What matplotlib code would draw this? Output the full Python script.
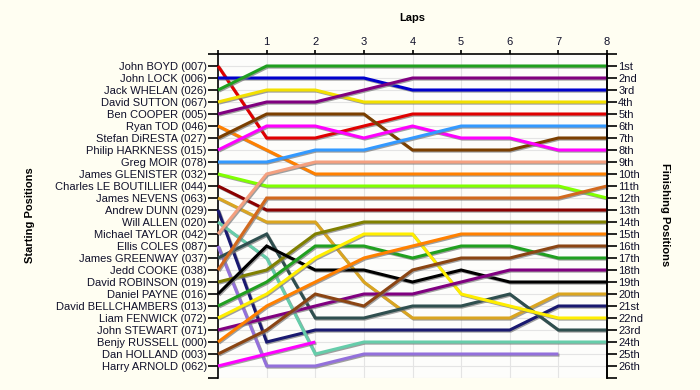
import matplotlib
matplotlib.use('Agg')
import matplotlib.pyplot as plt
import matplotlib.patheffects as pe

plt.rcParams['font.family'] = ['Liberation Sans', 'DejaVu Sans']

laps = [0, 1, 2, 3, 4, 5, 6, 7, 8]

drivers = [
    "John BOYD (007)", "John LOCK (006)", "Jack WHELAN (026)", "David SUTTON (067)",
    "Ben COOPER (005)", "Ryan TOD (046)", "Stefan DiRESTA (027)", "Philip HARKNESS (015)",
    "Greg MOIR (078)", "James GLENISTER (032)", "Charles LE BOUTILLIER (044)",
    "James NEVENS (063)", "Andrew DUNN (029)", "Will ALLEN (020)", "Michael TAYLOR (042)",
    "Ellis COLES (087)", "James GREENWAY (037)", "Jedd COOKE (038)", "David ROBINSON (019)",
    "Daniel PAYNE (016)", "David BELLCHAMBERS (013)", "Liam FENWICK (072)",
    "John STEWART (071)", "Benjy RUSSELL (000)", "Dan HOLLAND (003)", "Harry ARNOLD (062)",
]

driver_colors = [
    "#e00000", "#0000cc", "#20a020", "#f2e000",
    "#800080", "#ff8000", "#7b3f00", "#ff00ff",
    "#3399ff", "#80ff00", "#8b0000",
    "#daa520", "#191970", "#66cdaa", "#f4a080",
    "#9370db", "#2f4f4f", "#d2691e", "#808000",
    "#000000", "#20a020", "#ffee00",
    "#800080", "#ff8000", "#8b4513", "#ff00ff",
]

# position of each driver after each lap (lap 0 = starting grid)
lap_positions = [
    [1, 7, 7, 6, 5, 5, 5, 5, 5],
    [2, 2, 2, 2, 3, 3, 3, 3, 3],
    [3, 1, 1, 1, 1, 1, 1, 1, 1],
    [4, 3, 3, 4, 4, 4, 4, 4, 4],
    [5, 4, 4, 3, 2, 2, 2, 2, 2],
    [6, 8, 10, 10, 10, 10, 10, 10, 10],
    [7, 5, 5, 5, 8, 8, 8, 7, 7],
    [8, 6, 6, 7, 6, 7, 7, 8, 8],
    [9, 9, 8, 8, 7, 6, 6, 6, 6],
    [10, 11, 11, 11, 11, 11, 11, 11, 12],
    [11, 13, 13, 13, 13, 13, 13, 13, 13],
    [12, 14, 14, 19, 22, 22, 22, 20, 20],
    [13, 24, 23, 23, 23, 23, 23, 21, 21],
    [14, 17, 25, 24, 24, 24, 24, 24, 24],
    [15, 10, 9, 9, 9, 9, 9, 9, 9],
    [16, 26, 26, 25, 25, 25, 25, 25],
    [17, 15, 22, 22, 21, 21, 20, 23, 23],
    [18, 12, 12, 12, 12, 12, 12, 12, 11],
    [19, 18, 15, 14, 14, 14, 14, 14, 14],
    [20, 16, 18, 18, 19, 18, 19, 19, 19],
    [21, 19, 16, 16, 17, 16, 16, 17, 17],
    [22, 20, 17, 15, 15, 20, 21, 22, 22],
    [23, 22, 21, 20, 20, 19, 18, 18, 18],
    [24, 21, 19, 17, 16, 15, 15, 15, 15],
    [25, 23, 20, 21, 18, 17, 17, 16, 16],
    [26, 25, 24],
]

finishing_labels = [
    "1st", "2nd", "3rd", "4th", "5th", "6th", "7th", "8th", "9th", "10th",
    "11th", "12th", "13th", "14th", "15th", "16th", "17th", "18th", "19th", "20th",
    "21st", "22nd", "23rd", "24th", "25th", "26th",
]

W, H = 700, 390
fig = plt.figure(figsize=(W / 100, H / 100), dpi=100, facecolor="#fffef2")
ax = fig.add_axes([218 / W, 1 - 378 / H, (607 - 218) / W, (378 - 54) / H])
ax.set_facecolor("#fdfdfb")

n = len(drivers)
ax.set_xlim(0, 8)
ax.set_ylim(n + 1, 0)

for pos, col in zip(lap_positions, driver_colors):
    ax.plot(laps[:len(pos)], pos, color=col, lw=2.2, solid_capstyle='butt',
            solid_joinstyle='miter', clip_on=False, zorder=3,
            path_effects=[pe.SimpleLineShadow(offset=(0.8, -0.8), shadow_color='#777777', alpha=0.7),
                          pe.Normal()])

# grid
for k in range(1, n + 2):
    ax.axhline(k, color="#e4e4e4", lw=0.8, zorder=1)
for l in laps[1:-1]:
    ax.axvline(l, color="#e4e4e4", lw=0.8, zorder=1)

tick_col = "#10102a"
ax.spines['bottom'].set_visible(False)
for s in ['left', 'top', 'right']:
    ax.spines[s].set_linewidth(1.2)

yt = list(range(0, n + 2))
ax.set_yticks(yt)
ax.set_yticklabels([""] + drivers + [""], fontsize=8, color=tick_col)
ax.tick_params(axis='y', length=7, width=1.2, pad=1)

ax.xaxis.tick_top()
ax.set_xticks(laps)
ax.set_xticklabels([""] + [str(l) for l in laps[1:]], fontsize=8, color=tick_col)
ax.tick_params(axis='x', length=3, width=1.2, pad=2, top=True, bottom=False)

ax2 = ax.twinx()
ax2.set_ylim(n + 1, 0)
ax2.set_yticks(yt)
ax2.set_yticklabels([""] + finishing_labels + [""], fontsize=8, color=tick_col)
ax2.tick_params(axis='y', length=7, width=1.2, pad=1)
for s in ['bottom', 'top', 'left']:
    ax2.spines[s].set_visible(False)
ax2.spines['right'].set_linewidth(1.2)

fig.text(412 / W, 1 - 18 / H, "Laps", ha='center', va='center', fontsize=8, fontweight='bold')
fig.text(30 / W, 1 - 215 / H, "Starting Positions", ha='center', va='center',
         fontsize=8, fontweight='bold', rotation=90)
fig.text(665 / W, 1 - 215 / H, "Finishing Positions", ha='center', va='center',
         fontsize=8, fontweight='bold', rotation=270)

fig.savefig("out.png", dpi=100, facecolor=fig.get_facecolor())
